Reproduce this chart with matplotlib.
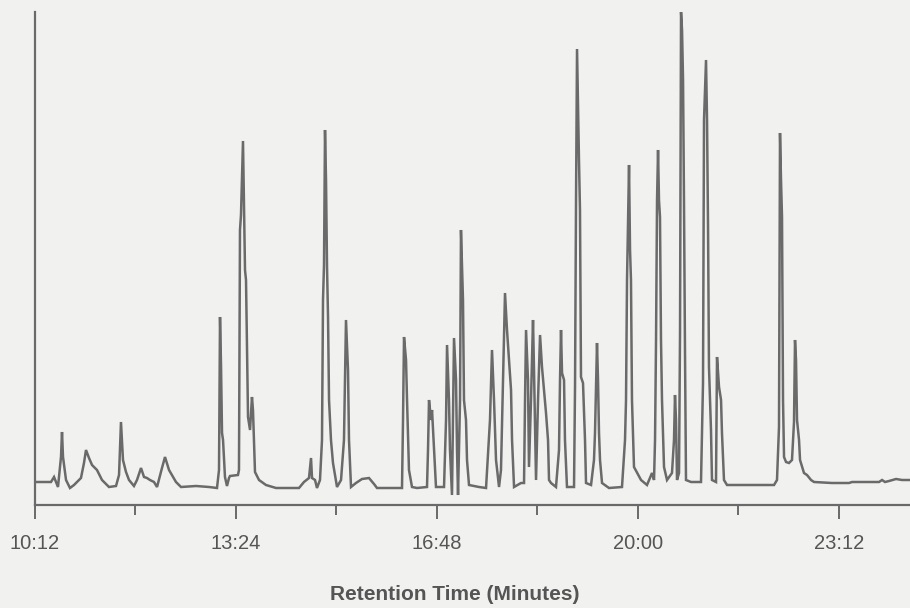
import matplotlib
matplotlib.use("Agg")
import matplotlib.pyplot as plt
from matplotlib.ticker import FixedLocator

# Retention time (minutes) and detector response (arbitrary units)
time_min = [
    10.168, 10.455, 10.503, 10.566, 10.614, 10.630, 10.646, 10.694, 10.757, 10.821,
    10.932, 10.980, 11.012, 11.060, 11.108, 11.187, 11.267, 11.378, 11.490, 11.538,
    11.569, 11.601, 11.649, 11.697, 11.776, 11.824, 11.888, 11.936, 11.983, 12.031,
    12.095, 12.143, 12.222, 12.270, 12.334, 12.445, 12.525, 12.764, 12.971, 13.098,
    13.130, 13.146, 13.162, 13.178, 13.194, 13.225, 13.257, 13.289, 13.305, 13.432,
    13.448, 13.464, 13.480, 13.512, 13.544, 13.560, 13.592, 13.624, 13.655, 13.671,
    13.703, 13.767, 13.878, 14.038, 14.404, 14.483, 14.563, 14.595, 14.611, 14.659,
    14.690, 14.738, 14.770, 14.786, 14.802, 14.818, 14.834, 14.850, 14.866, 14.882,
    14.913, 14.945, 15.009, 15.073, 15.120, 15.136, 15.152, 15.184, 15.200, 15.232,
    15.311, 15.407, 15.518, 15.598, 15.646, 16.044, 16.060, 16.076, 16.108, 16.124,
    16.155, 16.203, 16.283, 16.442, 16.458, 16.474, 16.506, 16.522, 16.554, 16.585,
    16.713, 16.745, 16.761, 16.792, 16.808, 16.840, 16.856, 16.872, 16.904, 16.920,
    16.936, 16.968, 16.983, 17.015, 17.031, 17.063, 17.079, 17.111, 17.270, 17.382,
    17.413, 17.445, 17.477, 17.509, 17.541, 17.589, 17.620, 17.652, 17.684, 17.716,
    17.748, 17.780, 17.796, 17.828, 17.939, 17.987, 18.003, 18.019, 18.050, 18.066,
    18.098, 18.130, 18.146, 18.178, 18.210, 18.242, 18.273, 18.305, 18.337, 18.369,
    18.385, 18.417, 18.496, 18.544, 18.560, 18.576, 18.592, 18.624, 18.639, 18.671,
    18.783, 18.799, 18.815, 18.831, 18.862, 18.878, 18.894, 18.926, 18.958, 18.974,
    19.054, 19.101, 19.117, 19.149, 19.165, 19.181, 19.197, 19.229, 19.340, 19.547,
    19.595, 19.611, 19.627, 19.659, 19.675, 19.690, 19.706, 19.738, 19.850, 19.945,
    20.025, 20.057, 20.073, 20.089, 20.105, 20.121, 20.136, 20.152, 20.168, 20.184,
    20.216, 20.264, 20.343, 20.375, 20.391, 20.407, 20.423, 20.455, 20.471, 20.487,
    20.503, 20.519, 20.534, 20.550, 20.566, 20.646, 20.805, 20.837, 20.853, 20.885,
    20.901, 20.917, 20.932, 20.964, 20.980, 21.044, 21.060, 21.092, 21.124, 21.139,
    21.171, 21.219, 21.968, 22.015, 22.047, 22.063, 22.079, 22.095, 22.111, 22.127,
    22.159, 22.206, 22.254, 22.286, 22.302, 22.318, 22.334, 22.366, 22.382, 22.445,
    22.493, 22.557, 22.605, 22.891, 23.162, 23.210, 23.640, 23.688, 23.735, 23.799,
    23.911, 24.006, 24.118,
]
response = [
    25, 25, 30, 20, 50, 75, 50, 27, 19, 22,
    29, 44, 57, 49, 42, 37, 27, 20, 21, 32,
    85, 47, 35, 27, 21, 27, 39, 30, 29, 27,
    25, 20, 39, 50, 37, 25, 20, 21, 20, 19,
    37, 190, 142, 74, 67, 30, 21, 29, 31, 32,
    37, 277, 292, 366, 237, 227, 90, 77, 110, 97,
    35, 27, 22, 19, 19, 25, 29, 49, 29, 27,
    19, 27, 67, 207, 242, 377, 327, 240, 190, 107,
    67, 44, 20, 27, 67, 127, 187, 137, 67, 20,
    24, 28, 29, 23, 19, 19, 87, 170, 147, 107,
    37, 20, 19, 20, 57, 107, 87, 97, 57, 20,
    20, 87, 162, 107, 57, 12, 87, 169, 127, 57,
    12, 107, 277, 207, 107, 87, 47, 22, 20, 19,
    52, 87, 157, 107, 47, 20, 37, 127, 214, 177,
    147, 117, 67, 20, 24, 24, 107, 177, 127, 40,
    107, 187, 137, 27, 107, 172, 140, 117, 94, 67,
    27, 24, 20, 57, 127, 177, 134, 127, 67, 20,
    20, 120, 307, 458, 347, 297, 130, 124, 67, 24,
    22, 47, 74, 164, 127, 74, 47, 24, 19, 20,
    67, 107, 227, 342, 257, 227, 107, 40, 27, 22,
    34, 27, 67, 167, 307, 357, 307, 290, 167, 107,
    40, 27, 34, 67, 112, 87, 27, 34, 174, 495,
    477, 427, 307, 157, 27, 25, 25, 124, 387, 447,
    387, 280, 140, 77, 27, 25, 150, 120, 107, 74,
    27, 22, 22, 27, 80, 374, 327, 290, 107, 50,
    45, 44, 47, 85, 167, 147, 87, 67, 47, 34,
    32, 27, 25, 24, 24, 25, 25, 27, 25, 26,
    28, 27, 27,
]

tick_positions = [10.2, 13.4, 16.6, 19.8, 23.0]
tick_labels = ["10:12", "13:24", "16:48", "20:00", "23:12"]
minor_positions = [11.8, 15.0, 18.2, 21.4]
x_label = "Retention Time (Minutes)"

BG = "#f1f1f0"
INK = "#6a6a6a"
TXT = "#555555"

plt.rcParams["font.family"] = ["Liberation Sans", "DejaVu Sans"]

fig = plt.figure(figsize=(9.10, 6.08), dpi=100, facecolor=BG)
ax = fig.add_axes([35 / 910, 1 - 505 / 608, 875 / 910, 493 / 608])
ax.set_facecolor(BG)

ax.plot(time_min, response, color=INK, lw=1.8, solid_joinstyle="miter")

ax.set_xlim(10.2, 24.133)
ax.set_ylim(2, 495)

for s in ("top", "right"):
    ax.spines[s].set_visible(False)
for s in ("left", "bottom"):
    ax.spines[s].set_color(INK)
    ax.spines[s].set_linewidth(1.6)

ax.set_yticks([])
ax.xaxis.set_major_locator(FixedLocator(tick_positions))
ax.set_xticklabels(tick_labels)
ax.xaxis.set_minor_locator(FixedLocator(minor_positions))
ax.tick_params(axis="x", which="major", length=10, width=1.4, color=INK,
               labelsize=14.5, labelcolor=TXT, pad=11)
ax.tick_params(axis="x", which="minor", length=7, width=1.4, color=INK)

fig.text(455 / 910, 1 - 595 / 608, x_label, ha="center", va="center",
         fontsize=15, fontweight="bold", color=TXT)

fig.savefig("out.png", dpi=100, facecolor=BG)
